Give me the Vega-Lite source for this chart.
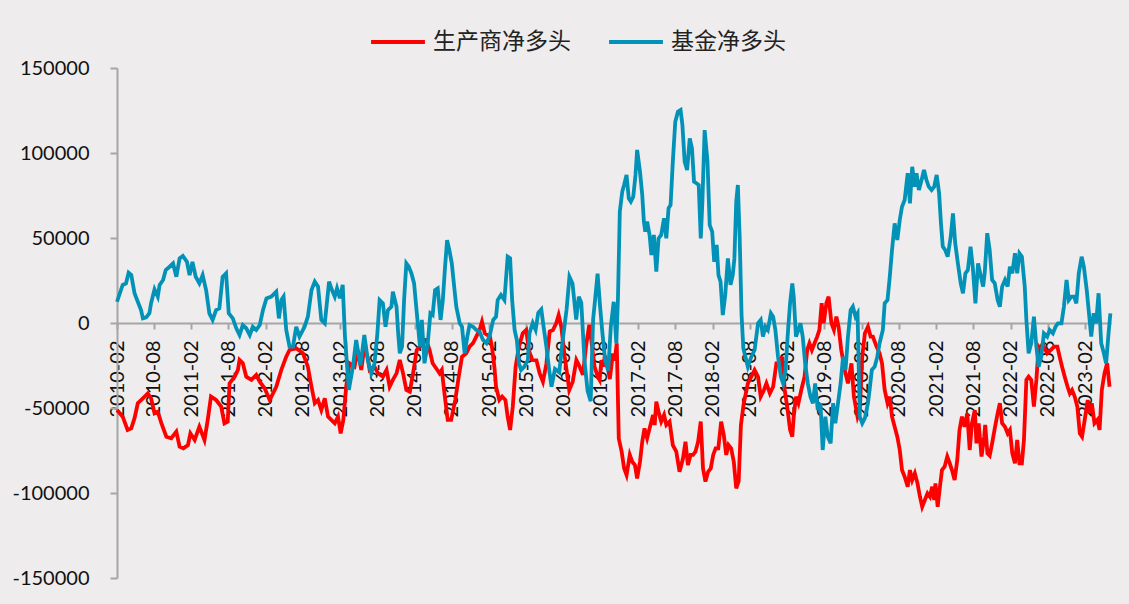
{
  "$schema": "https://vega.github.io/schema/vega-lite/v6.json",
  "width": 994,
  "height": 510,
  "autosize": {"type": "none"},
  "padding": {"left": 117, "top": 68, "right": 18, "bottom": 26},
  "background": "#EEECEC",
  "config": {"view": {"stroke": null}, "font": "Lato"},
  "datasets": {
    "producer": [
      {"date":"2010-02-01","value":-51200},{"date":"2010-03-01","value":-55100},{"date":"2010-03-25","value":-62900},{"date":"2010-04-12","value":-62000},{"date":"2010-04-28","value":-56000},{"date":"2010-05-14","value":-47200},{"date":"2010-06-08","value":-44300},{"date":"2010-07-02","value":-41400},{"date":"2010-07-18","value":-44300},{"date":"2010-08-04","value":-53100},{"date":"2010-08-20","value":-52200},{"date":"2010-09-07","value":-59000},{"date":"2010-10-01","value":-66900},{"date":"2010-10-25","value":-67800},{"date":"2010-11-19","value":-63900},{"date":"2010-12-05","value":-72700},{"date":"2010-12-24","value":-73700},{"date":"2011-01-15","value":-71800},{"date":"2011-01-27","value":-64900},{"date":"2011-02-17","value":-68800},{"date":"2011-03-12","value":-61000},{"date":"2011-04-06","value":-68800},{"date":"2011-04-22","value":-57000},{"date":"2011-05-08","value":-43300},{"date":"2011-06-02","value":-45300},{"date":"2011-06-27","value":-49200},{"date":"2011-07-13","value":-59000},{"date":"2011-07-29","value":-58000},{"date":"2011-08-07","value":-35500},{"date":"2011-09-01","value":-31600},{"date":"2011-09-17","value":-27600},{"date":"2011-09-25","value":-21800},{"date":"2011-10-11","value":-23700},{"date":"2011-10-28","value":-31600},{"date":"2011-11-22","value":-33500},{"date":"2011-12-16","value":-30600},{"date":"2012-01-02","value":-34500},{"date":"2012-01-26","value":-38400},{"date":"2012-02-20","value":-45300},{"date":"2012-03-23","value":-37500},{"date":"2012-04-17","value":-27600},{"date":"2012-05-11","value":-19800},{"date":"2012-05-27","value":-15900},{"date":"2012-06-29","value":-14900},{"date":"2012-08-01","value":-17800},{"date":"2012-08-25","value":-25700},{"date":"2012-09-12","value":-37500},{"date":"2012-09-28","value":-47200},{"date":"2012-10-14","value":-45300},{"date":"2012-10-30","value":-51200},{"date":"2012-11-16","value":-44300},{"date":"2012-12-02","value":-55100},{"date":"2012-12-18","value":-57000},{"date":"2013-01-04","value":-59000},{"date":"2013-01-20","value":-55100},{"date":"2013-02-02","value":-64900},{"date":"2013-02-15","value":-57000},{"date":"2013-03-01","value":-37500},{"date":"2013-03-17","value":-23700},{"date":"2013-04-11","value":-25700},{"date":"2013-04-27","value":-15900},{"date":"2013-05-14","value":-27600},{"date":"2013-05-29","value":-14000},{"date":"2013-06-14","value":-20000},{"date":"2013-06-24","value":-27600},{"date":"2013-07-18","value":-25700},{"date":"2013-08-04","value":-29600},{"date":"2013-08-28","value":-31600},{"date":"2013-09-15","value":-27600},{"date":"2013-09-30","value":-37500},{"date":"2013-10-16","value":-33500},{"date":"2013-11-03","value":-29600},{"date":"2013-11-19","value":-21800},{"date":"2013-12-05","value":-29600},{"date":"2013-12-21","value":-39400},{"date":"2014-01-07","value":-40400},{"date":"2014-01-23","value":-29600},{"date":"2014-02-10","value":-15900},{"date":"2014-02-26","value":-13900},{"date":"2014-03-12","value":-10000},{"date":"2014-03-28","value":-10000},{"date":"2014-04-14","value":-15900},{"date":"2014-04-29","value":-23700},{"date":"2014-05-16","value":-26600},{"date":"2014-06-02","value":-29600},{"date":"2014-06-13","value":-27600},{"date":"2014-06-26","value":-41400},{"date":"2014-07-12","value":-57000},{"date":"2014-07-29","value":-57000},{"date":"2014-08-18","value":-45300},{"date":"2014-09-04","value":-31600},{"date":"2014-09-20","value":-19800},{"date":"2014-10-11","value":-17800},{"date":"2014-10-27","value":-13900},{"date":"2014-11-13","value":-11900},{"date":"2014-11-29","value":-8000},{"date":"2014-12-15","value":-4100},{"date":"2014-12-27","value":800},{"date":"2015-01-10","value":-6100},{"date":"2015-02-04","value":-8000},{"date":"2015-02-14","value":-14000},{"date":"2015-02-26","value":-26000},{"date":"2015-03-06","value":-37500},{"date":"2015-03-22","value":-45300},{"date":"2015-04-05","value":-43300},{"date":"2015-04-21","value":-45300},{"date":"2015-05-02","value":-55100},{"date":"2015-05-14","value":-62900},{"date":"2015-05-27","value":-49200},{"date":"2015-06-10","value":-25700},{"date":"2015-06-26","value":-13900},{"date":"2015-07-15","value":-6100},{"date":"2015-08-01","value":-4100},{"date":"2015-08-14","value":-15900},{"date":"2015-08-30","value":-21800},{"date":"2015-09-20","value":-22000},{"date":"2015-10-06","value":-29600},{"date":"2015-10-22","value":-34500},{"date":"2015-11-08","value":-24000},{"date":"2015-11-24","value":-5000},{"date":"2015-12-10","value":-4100},{"date":"2015-12-26","value":-200},{"date":"2016-01-07","value":4700},{"date":"2016-01-20","value":-2200},{"date":"2016-02-06","value":-20000},{"date":"2016-02-17","value":-29600},{"date":"2016-02-28","value":-39400},{"date":"2016-03-16","value":-34500},{"date":"2016-04-03","value":-21800},{"date":"2016-04-11","value":-23700},{"date":"2016-04-19","value":-25700},{"date":"2016-05-05","value":-30500},{"date":"2016-05-21","value":-13000},{"date":"2016-06-05","value":-1000},{"date":"2016-06-15","value":-10000},{"date":"2016-07-01","value":-25700},{"date":"2016-07-17","value":-31600},{"date":"2016-07-26","value":-33500},{"date":"2016-08-04","value":-21800},{"date":"2016-08-12","value":-25700},{"date":"2016-08-20","value":-20000},{"date":"2016-08-29","value":-22000},{"date":"2016-09-14","value":-33000},{"date":"2016-09-29","value":-18000},{"date":"2016-10-08","value":-22000},{"date":"2016-10-18","value":-12000},{"date":"2016-10-28","value":-68000},{"date":"2016-11-11","value":-75700},{"date":"2016-11-23","value":-85500},{"date":"2016-12-05","value":-89400},{"date":"2016-12-21","value":-77600},{"date":"2017-01-02","value":-81600},{"date":"2017-01-15","value":-83500},{"date":"2017-01-26","value":-91400},{"date":"2017-02-09","value":-81600},{"date":"2017-02-20","value":-69800},{"date":"2017-03-03","value":-62000},{"date":"2017-03-16","value":-67800},{"date":"2017-03-28","value":-62000},{"date":"2017-04-14","value":-54100},{"date":"2017-04-22","value":-60000},{"date":"2017-04-30","value":-46300},{"date":"2017-05-11","value":-52200},{"date":"2017-05-24","value":-58000},{"date":"2017-06-07","value":-54100},{"date":"2017-06-18","value":-60000},{"date":"2017-07-04","value":-58000},{"date":"2017-07-20","value":-71800},{"date":"2017-08-06","value":-75700},{"date":"2017-08-22","value":-87500},{"date":"2017-09-08","value":-79600},{"date":"2017-09-20","value":-69800},{"date":"2017-10-02","value":-83500},{"date":"2017-10-15","value":-77600},{"date":"2017-10-27","value":-77600},{"date":"2017-11-08","value":-75700},{"date":"2017-11-21","value":-69800},{"date":"2017-12-04","value":-58000},{"date":"2017-12-15","value":-85500},{"date":"2017-12-27","value":-93300},{"date":"2018-01-09","value":-87500},{"date":"2018-01-22","value":-85500},{"date":"2018-02-03","value":-77600},{"date":"2018-02-15","value":-73700},{"date":"2018-02-28","value":-73700},{"date":"2018-03-14","value":-58000},{"date":"2018-03-27","value":-65900},{"date":"2018-04-08","value":-77600},{"date":"2018-04-19","value":-71800},{"date":"2018-05-02","value":-73700},{"date":"2018-05-15","value":-81600},{"date":"2018-05-27","value":-97300},{"date":"2018-06-08","value":-93000},{"date":"2018-06-19","value":-60000},{"date":"2018-07-02","value":-48000},{"date":"2018-07-23","value":-35500},{"date":"2018-08-09","value":-31600},{"date":"2018-08-25","value":-27600},{"date":"2018-09-11","value":-31600},{"date":"2018-09-24","value":-43300},{"date":"2018-10-10","value":-39400},{"date":"2018-10-22","value":-35500},{"date":"2018-11-08","value":-41400},{"date":"2018-11-24","value":-37500},{"date":"2018-12-10","value":-23700},{"date":"2018-12-26","value":-23700},{"date":"2019-01-07","value":-19800},{"date":"2019-01-20","value":-39400},{"date":"2019-02-03","value":-51200},{"date":"2019-02-15","value":-62900},{"date":"2019-02-26","value":-66900},{"date":"2019-03-05","value":-55100},{"date":"2019-03-16","value":-43300},{"date":"2019-03-28","value":-47200},{"date":"2019-04-11","value":-39400},{"date":"2019-04-27","value":-31600},{"date":"2019-05-10","value":-15900},{"date":"2019-05-21","value":-11900},{"date":"2019-06-02","value":-15900},{"date":"2019-06-15","value":-11900},{"date":"2019-06-28","value":-8000},{"date":"2019-07-09","value":-4100},{"date":"2019-07-20","value":11600},{"date":"2019-07-30","value":-200},{"date":"2019-08-12","value":11600},{"date":"2019-08-23","value":15500},{"date":"2019-09-06","value":-200},{"date":"2019-09-18","value":-4100},{"date":"2019-09-30","value":3700},{"date":"2019-10-11","value":-2200},{"date":"2019-10-24","value":-15900},{"date":"2019-11-10","value":-27600},{"date":"2019-11-26","value":-35500},{"date":"2019-12-13","value":-23700},{"date":"2019-12-25","value":-43300},{"date":"2020-01-12","value":-55100},{"date":"2020-01-23","value":-51200},{"date":"2020-02-04","value":-19800},{"date":"2020-02-17","value":-6000},{"date":"2020-03-03","value":-2200},{"date":"2020-03-16","value":-8000},{"date":"2020-03-27","value":-8000},{"date":"2020-04-14","value":-13900},{"date":"2020-04-29","value":-17800},{"date":"2020-05-11","value":-23700},{"date":"2020-05-24","value":-39400},{"date":"2020-06-07","value":-47200},{"date":"2020-06-18","value":-43300},{"date":"2020-06-29","value":-55100},{"date":"2020-07-12","value":-61000},{"date":"2020-07-25","value":-66900},{"date":"2020-08-06","value":-74700},{"date":"2020-08-17","value":-86500},{"date":"2020-08-30","value":-90400},{"date":"2020-09-14","value":-96300},{"date":"2020-09-25","value":-86500},{"date":"2020-10-06","value":-92400},{"date":"2020-10-19","value":-88400},{"date":"2020-11-01","value":-94300},{"date":"2020-11-13","value":-102200},{"date":"2020-11-24","value":-108100},{"date":"2020-12-07","value":-104100},{"date":"2020-12-20","value":-100200},{"date":"2021-01-01","value":-102200},{"date":"2021-01-12","value":-96300},{"date":"2021-01-22","value":-104100},{"date":"2021-01-28","value":-94300},{"date":"2021-02-08","value":-108100},{"date":"2021-02-19","value":-96300},{"date":"2021-03-01","value":-86500},{"date":"2021-03-14","value":-84500},{"date":"2021-03-27","value":-78600},{"date":"2021-04-08","value":-82500},{"date":"2021-04-19","value":-86500},{"date":"2021-05-02","value":-92400},{"date":"2021-05-15","value":-80600},{"date":"2021-05-26","value":-62900},{"date":"2021-06-07","value":-55100},{"date":"2021-06-20","value":-61000},{"date":"2021-07-03","value":-53100},{"date":"2021-07-15","value":-74700},{"date":"2021-07-26","value":-59000},{"date":"2021-08-09","value":-51200},{"date":"2021-08-17","value":-70800},{"date":"2021-08-28","value":-59000},{"date":"2021-09-11","value":-78600},{"date":"2021-09-24","value":-66900},{"date":"2021-09-29","value":-60000},{"date":"2021-10-10","value":-76700},{"date":"2021-10-21","value":-78000},{"date":"2021-11-02","value":-70800},{"date":"2021-11-15","value":-62000},{"date":"2021-11-29","value":-53100},{"date":"2021-12-10","value":-47200},{"date":"2021-12-21","value":-59000},{"date":"2022-01-04","value":-61000},{"date":"2022-01-17","value":-64900},{"date":"2022-01-28","value":-62900},{"date":"2022-02-09","value":-76700},{"date":"2022-02-22","value":-82500},{"date":"2022-03-05","value":-68800},{"date":"2022-03-16","value":-82500},{"date":"2022-03-28","value":-82500},{"date":"2022-04-07","value":-68800},{"date":"2022-04-19","value":-33500},{"date":"2022-04-30","value":-31600},{"date":"2022-05-13","value":-33500},{"date":"2022-05-26","value":-49200},{"date":"2022-06-07","value":-33500},{"date":"2022-06-18","value":-13900},{"date":"2022-07-01","value":-15900},{"date":"2022-07-14","value":-13900},{"date":"2022-07-30","value":-17800},{"date":"2022-08-16","value":-15900},{"date":"2022-09-02","value":-13900},{"date":"2022-09-18","value":-13900},{"date":"2022-09-29","value":-19800},{"date":"2022-10-11","value":-25700},{"date":"2022-10-24","value":-31600},{"date":"2022-11-07","value":-37500},{"date":"2022-11-18","value":-41400},{"date":"2022-11-29","value":-39400},{"date":"2022-12-12","value":-43300},{"date":"2022-12-25","value":-49200},{"date":"2023-01-06","value":-64900},{"date":"2023-01-17","value":-66900},{"date":"2023-01-30","value":-57000},{"date":"2023-02-14","value":-45300},{"date":"2023-02-25","value":-53100},{"date":"2023-03-06","value":-47200},{"date":"2023-03-19","value":-59000},{"date":"2023-04-02","value":-57000},{"date":"2023-04-13","value":-62900},{"date":"2023-04-24","value":-39400},{"date":"2023-05-07","value":-29600},{"date":"2023-05-20","value":-23700},{"date":"2023-06-01","value":-37500}
    ],
    "fund": [
      {"date":"2010-02-01","value":12500},{"date":"2010-02-15","value":17500},{"date":"2010-03-01","value":22400},{"date":"2010-03-17","value":23300},{"date":"2010-03-30","value":29600},{"date":"2010-04-12","value":28200},{"date":"2010-04-28","value":17500},{"date":"2010-05-14","value":12500},{"date":"2010-05-30","value":7600},{"date":"2010-06-08","value":2700},{"date":"2010-06-24","value":3300},{"date":"2010-07-10","value":5700},{"date":"2010-07-18","value":11600},{"date":"2010-08-04","value":19800},{"date":"2010-08-20","value":15500},{"date":"2010-08-29","value":22400},{"date":"2010-09-15","value":25300},{"date":"2010-09-28","value":31200},{"date":"2010-10-17","value":33100},{"date":"2010-11-03","value":35100},{"date":"2010-11-19","value":27200},{"date":"2010-12-05","value":38000},{"date":"2010-12-21","value":39400},{"date":"2011-01-10","value":36000},{"date":"2011-01-23","value":28200},{"date":"2011-02-06","value":36000},{"date":"2011-02-22","value":27200},{"date":"2011-03-12","value":23300},{"date":"2011-03-28","value":28200},{"date":"2011-04-14","value":19400},{"date":"2011-04-30","value":5700},{"date":"2011-05-16","value":1800},{"date":"2011-06-02","value":7600},{"date":"2011-06-18","value":8600},{"date":"2011-07-04","value":27200},{"date":"2011-07-21","value":29200},{"date":"2011-08-03","value":5700},{"date":"2011-08-23","value":2700},{"date":"2011-09-09","value":-3100},{"date":"2011-09-25","value":-7000},{"date":"2011-10-11","value":-1200},{"date":"2011-10-28","value":-3100},{"date":"2011-11-14","value":-7100},{"date":"2011-11-29","value":-2200},{"date":"2011-12-16","value":-4100},{"date":"2012-01-02","value":-1200},{"date":"2012-01-18","value":7600},{"date":"2012-02-04","value":14500},{"date":"2012-02-28","value":15500},{"date":"2012-03-23","value":18400},{"date":"2012-04-05","value":2700},{"date":"2012-04-17","value":13500},{"date":"2012-04-28","value":15500},{"date":"2012-05-11","value":-4100},{"date":"2012-05-27","value":-13900},{"date":"2012-06-13","value":-13900},{"date":"2012-06-29","value":-2200},{"date":"2012-07-15","value":-8000},{"date":"2012-08-09","value":-2200},{"date":"2012-08-25","value":3700},{"date":"2012-09-12","value":19400},{"date":"2012-09-28","value":24300},{"date":"2012-10-14","value":21400},{"date":"2012-10-30","value":1800},{"date":"2012-11-16","value":-200},{"date":"2012-12-07","value":24300},{"date":"2012-12-18","value":20400},{"date":"2013-01-04","value":15500},{"date":"2013-01-15","value":20400},{"date":"2013-01-29","value":14500},{"date":"2013-02-12","value":22400},{"date":"2013-02-23","value":-8000},{"date":"2013-03-14","value":-39400},{"date":"2013-04-03","value":-25700},{"date":"2013-04-19","value":-10000},{"date":"2013-04-27","value":-15900},{"date":"2013-05-10","value":-25000},{"date":"2013-05-29","value":-7000},{"date":"2013-06-15","value":-21800},{"date":"2013-07-02","value":-29600},{"date":"2013-07-18","value":-23700},{"date":"2013-08-01","value":-6100},{"date":"2013-08-12","value":13500},{"date":"2013-08-28","value":11600},{"date":"2013-09-10","value":-2200},{"date":"2013-09-22","value":7600},{"date":"2013-10-09","value":9600},{"date":"2013-10-16","value":18400},{"date":"2013-11-03","value":9600},{"date":"2013-11-11","value":-6100},{"date":"2013-11-19","value":-17800},{"date":"2013-11-30","value":-13900},{"date":"2013-12-10","value":13500},{"date":"2013-12-21","value":35100},{"date":"2014-01-02","value":33100},{"date":"2014-01-15","value":29200},{"date":"2014-01-28","value":23300},{"date":"2014-02-15","value":-200},{"date":"2014-02-26","value":-13900},{"date":"2014-03-07","value":1800},{"date":"2014-03-20","value":-23700},{"date":"2014-04-05","value":-11900},{"date":"2014-04-18","value":5700},{"date":"2014-04-29","value":4700},{"date":"2014-05-11","value":19400},{"date":"2014-05-24","value":20400},{"date":"2014-06-07","value":1800},{"date":"2014-06-18","value":13500},{"date":"2014-06-29","value":33100},{"date":"2014-07-09","value":48800},{"date":"2014-07-20","value":42900},{"date":"2014-08-01","value":35100},{"date":"2014-08-11","value":23300},{"date":"2014-08-23","value":9600},{"date":"2014-09-09","value":-200},{"date":"2014-09-20","value":-2200},{"date":"2014-10-03","value":-17800},{"date":"2014-10-16","value":-8000},{"date":"2014-10-27","value":-1200},{"date":"2014-11-13","value":-2200},{"date":"2014-11-29","value":-4100},{"date":"2014-12-15","value":-5100},{"date":"2015-01-01","value":-10000},{"date":"2015-01-18","value":-11900},{"date":"2015-02-04","value":-7000},{"date":"2015-02-20","value":1800},{"date":"2015-03-06","value":3700},{"date":"2015-03-14","value":13500},{"date":"2015-03-30","value":16500},{"date":"2015-04-16","value":13500},{"date":"2015-05-02","value":39000},{"date":"2015-05-14","value":38000},{"date":"2015-05-24","value":13500},{"date":"2015-06-05","value":-4100},{"date":"2015-06-16","value":-10000},{"date":"2015-06-26","value":-23700},{"date":"2015-07-07","value":-27600},{"date":"2015-07-23","value":-25700},{"date":"2015-08-09","value":-21800},{"date":"2015-08-17","value":-6000},{"date":"2015-09-02","value":0},{"date":"2015-09-16","value":-4000},{"date":"2015-09-29","value":6000},{"date":"2015-10-14","value":8000},{"date":"2015-10-25","value":-2000},{"date":"2015-11-08","value":-14000},{"date":"2015-11-21","value":-27000},{"date":"2015-12-03","value":-37500},{"date":"2015-12-20","value":-27000},{"date":"2016-01-10","value":-29000},{"date":"2016-01-27","value":-10000},{"date":"2016-02-15","value":8000},{"date":"2016-02-29","value":27200},{"date":"2016-03-15","value":23300},{"date":"2016-04-02","value":2000},{"date":"2016-04-15","value":15500},{"date":"2016-04-27","value":12000},{"date":"2016-05-13","value":-22500},{"date":"2016-05-28","value":-40000},{"date":"2016-06-12","value":-46000},{"date":"2016-06-24","value":2000},{"date":"2016-07-04","value":14000},{"date":"2016-07-16","value":29000},{"date":"2016-07-28","value":10000},{"date":"2016-08-08","value":-5000},{"date":"2016-08-22","value":-22000},{"date":"2016-09-06","value":-28000},{"date":"2016-09-19","value":-2000},{"date":"2016-10-03","value":12500},{"date":"2016-10-16","value":-12000},{"date":"2016-10-24","value":15000},{"date":"2016-11-02","value":65500},{"date":"2016-11-14","value":77300},{"date":"2016-11-23","value":81200},{"date":"2016-12-05","value":87100},{"date":"2016-12-16","value":73300},{"date":"2016-12-26","value":71400},{"date":"2017-01-07","value":74300},{"date":"2017-01-18","value":87100},{"date":"2017-01-26","value":101800},{"date":"2017-02-09","value":89000},{"date":"2017-02-20","value":75300},{"date":"2017-02-28","value":59600},{"date":"2017-03-07","value":53700},{"date":"2017-03-16","value":59600},{"date":"2017-03-28","value":51800},{"date":"2017-04-06","value":40000},{"date":"2017-04-18","value":51800},{"date":"2017-04-30","value":30200},{"date":"2017-05-11","value":49800},{"date":"2017-05-24","value":51800},{"date":"2017-06-07","value":61600},{"date":"2017-06-18","value":49800},{"date":"2017-06-29","value":67500},{"date":"2017-07-09","value":69400},{"date":"2017-07-20","value":94900},{"date":"2017-08-01","value":118400},{"date":"2017-08-14","value":124300},{"date":"2017-08-27","value":125300},{"date":"2017-09-05","value":116500},{"date":"2017-09-16","value":94900},{"date":"2017-09-28","value":90000},{"date":"2017-10-11","value":108600},{"date":"2017-10-22","value":102700},{"date":"2017-11-01","value":83100},{"date":"2017-11-13","value":82200},{"date":"2017-11-24","value":81200},{"date":"2017-12-04","value":49800},{"date":"2017-12-12","value":71400},{"date":"2017-12-23","value":113500},{"date":"2018-01-06","value":94900},{"date":"2018-01-17","value":57600},{"date":"2018-01-29","value":53700},{"date":"2018-02-08","value":36000},{"date":"2018-02-20","value":45900},{"date":"2018-03-01","value":28200},{"date":"2018-03-11","value":24300},{"date":"2018-03-22","value":4700},{"date":"2018-04-03","value":16500},{"date":"2018-04-16","value":38000},{"date":"2018-04-29","value":22400},{"date":"2018-05-10","value":28200},{"date":"2018-05-18","value":38000},{"date":"2018-05-27","value":71400},{"date":"2018-06-04","value":81200},{"date":"2018-06-13","value":50000},{"date":"2018-06-22","value":5000},{"date":"2018-07-01","value":-15000},{"date":"2018-07-23","value":-25700},{"date":"2018-08-09","value":-19800},{"date":"2018-08-25","value":-15900},{"date":"2018-09-11","value":-200},{"date":"2018-09-24","value":1800},{"date":"2018-10-05","value":-8000},{"date":"2018-10-17","value":-2200},{"date":"2018-10-29","value":-4100},{"date":"2018-11-13","value":5700},{"date":"2018-11-24","value":3700},{"date":"2018-12-05","value":-4100},{"date":"2018-12-18","value":-19800},{"date":"2019-01-01","value":-31600},{"date":"2019-01-12","value":-35500},{"date":"2019-01-24","value":-27600},{"date":"2019-02-03","value":-8000},{"date":"2019-02-15","value":11600},{"date":"2019-02-26","value":23300},{"date":"2019-03-05","value":15500},{"date":"2019-03-16","value":-8000},{"date":"2019-03-28","value":-4100},{"date":"2019-04-07","value":-200},{"date":"2019-04-18","value":-8000},{"date":"2019-04-30","value":-23700},{"date":"2019-05-13","value":-35500},{"date":"2019-05-26","value":-43300},{"date":"2019-06-07","value":-47200},{"date":"2019-06-18","value":-35500},{"date":"2019-07-01","value":-51200},{"date":"2019-07-14","value":-47200},{"date":"2019-07-25","value":-74700},{"date":"2019-08-07","value":-55100},{"date":"2019-08-19","value":-66900},{"date":"2019-09-02","value":-70800},{"date":"2019-09-14","value":-47200},{"date":"2019-09-25","value":-59000},{"date":"2019-10-08","value":-47200},{"date":"2019-10-21","value":-35500},{"date":"2019-11-02","value":-19800},{"date":"2019-11-14","value":-27600},{"date":"2019-11-26","value":-8000},{"date":"2019-12-09","value":7600},{"date":"2019-12-20","value":9600},{"date":"2020-01-02","value":3700},{"date":"2020-01-12","value":5700},{"date":"2020-01-23","value":-55100},{"date":"2020-02-04","value":-59000},{"date":"2020-02-17","value":-56000},{"date":"2020-03-03","value":-47200},{"date":"2020-03-11","value":-39400},{"date":"2020-03-22","value":-27600},{"date":"2020-04-05","value":-25700},{"date":"2020-04-18","value":-19800},{"date":"2020-04-29","value":-11900},{"date":"2020-05-15","value":-4100},{"date":"2020-05-24","value":11600},{"date":"2020-06-07","value":13500},{"date":"2020-06-18","value":27200},{"date":"2020-06-29","value":42900},{"date":"2020-07-12","value":58600},{"date":"2020-07-25","value":48800},{"date":"2020-08-06","value":60600},{"date":"2020-08-17","value":68400},{"date":"2020-08-30","value":72400},{"date":"2020-09-14","value":88100},{"date":"2020-09-25","value":70400},{"date":"2020-10-06","value":91900},{"date":"2020-10-19","value":80200},{"date":"2020-10-27","value":88100},{"date":"2020-11-08","value":78200},{"date":"2020-11-21","value":84100},{"date":"2020-12-03","value":90000},{"date":"2020-12-15","value":84100},{"date":"2020-12-26","value":80200},{"date":"2021-01-09","value":78200},{"date":"2021-01-22","value":80200},{"date":"2021-02-03","value":87100},{"date":"2021-02-15","value":76300},{"date":"2021-02-24","value":58600},{"date":"2021-03-05","value":44900},{"date":"2021-03-17","value":42900},{"date":"2021-03-29","value":39000},{"date":"2021-04-13","value":50800},{"date":"2021-04-24","value":64500},{"date":"2021-05-05","value":46900},{"date":"2021-05-18","value":35100},{"date":"2021-06-01","value":23300},{"date":"2021-06-12","value":17500},{"date":"2021-06-24","value":29200},{"date":"2021-07-06","value":31200},{"date":"2021-07-19","value":44900},{"date":"2021-07-30","value":33100},{"date":"2021-08-12","value":11600},{"date":"2021-08-25","value":35100},{"date":"2021-09-08","value":27200},{"date":"2021-09-19","value":21400},{"date":"2021-09-27","value":30000},{"date":"2021-10-09","value":52800},{"date":"2021-10-21","value":42900},{"date":"2021-11-02","value":25300},{"date":"2021-11-15","value":23300},{"date":"2021-11-29","value":13500},{"date":"2021-12-10","value":9600},{"date":"2021-12-21","value":21400},{"date":"2022-01-04","value":25300},{"date":"2022-01-17","value":21400},{"date":"2022-01-28","value":33100},{"date":"2022-02-09","value":29200},{"date":"2022-02-22","value":41000},{"date":"2022-03-05","value":29200},{"date":"2022-03-16","value":41000},{"date":"2022-03-28","value":39000},{"date":"2022-04-11","value":21400},{"date":"2022-04-19","value":1800},{"date":"2022-04-30","value":-17800},{"date":"2022-05-13","value":-11900},{"date":"2022-05-26","value":3700},{"date":"2022-06-07","value":-13900},{"date":"2022-06-18","value":-25700},{"date":"2022-07-01","value":-19800},{"date":"2022-07-14","value":-6100},{"date":"2022-07-30","value":-8000},{"date":"2022-08-11","value":-4100},{"date":"2022-08-27","value":-6100},{"date":"2022-09-09","value":-2200},{"date":"2022-09-21","value":-200},{"date":"2022-10-08","value":-200},{"date":"2022-10-20","value":9600},{"date":"2022-11-02","value":25300},{"date":"2022-11-13","value":13500},{"date":"2022-11-26","value":15500},{"date":"2022-12-09","value":15500},{"date":"2022-12-20","value":11600},{"date":"2023-01-01","value":29200},{"date":"2023-01-15","value":39000},{"date":"2023-01-26","value":33100},{"date":"2023-02-09","value":19400},{"date":"2023-02-20","value":5700},{"date":"2023-03-03","value":-8000},{"date":"2023-03-15","value":5700},{"date":"2023-03-27","value":-200},{"date":"2023-04-08","value":17500},{"date":"2023-04-21","value":-11900},{"date":"2023-05-04","value":-17800},{"date":"2023-05-15","value":-23700},{"date":"2023-05-27","value":-6100},{"date":"2023-06-05","value":5700}
    ]
  },
  "encoding": {
    "x": {
      "field": "date",
      "type": "temporal",
      "scale": {"type": "utc", "domain": [{"year": 2010, "month": 2, "date": 1, "utc": true}, {"year": 2023, "month": 6, "date": 8, "utc": true}]},
      "axis": {
        "title": null,
        "grid": false,
        "offset": -255,
        "values": [
          {"year":2010,"month":2,"date":1,"utc":true},{"year":2010,"month":8,"date":1,"utc":true},
          {"year":2011,"month":2,"date":1,"utc":true},{"year":2011,"month":8,"date":1,"utc":true},
          {"year":2012,"month":2,"date":1,"utc":true},{"year":2012,"month":8,"date":1,"utc":true},
          {"year":2013,"month":2,"date":1,"utc":true},{"year":2013,"month":8,"date":1,"utc":true},
          {"year":2014,"month":2,"date":1,"utc":true},{"year":2014,"month":8,"date":1,"utc":true},
          {"year":2015,"month":2,"date":1,"utc":true},{"year":2015,"month":8,"date":1,"utc":true},
          {"year":2016,"month":2,"date":1,"utc":true},{"year":2016,"month":8,"date":1,"utc":true},
          {"year":2017,"month":2,"date":1,"utc":true},{"year":2017,"month":8,"date":1,"utc":true},
          {"year":2018,"month":2,"date":1,"utc":true},{"year":2018,"month":8,"date":1,"utc":true},
          {"year":2019,"month":2,"date":1,"utc":true},{"year":2019,"month":8,"date":1,"utc":true},
          {"year":2020,"month":2,"date":1,"utc":true},{"year":2020,"month":8,"date":1,"utc":true},
          {"year":2021,"month":2,"date":1,"utc":true},{"year":2021,"month":8,"date":1,"utc":true},
          {"year":2022,"month":2,"date":1,"utc":true},{"year":2022,"month":8,"date":1,"utc":true},
          {"year":2023,"month":2,"date":1,"utc":true}
        ],
        "labelExpr": "utcFormat(datum.value, '%Y-%m')",
        "labelAngle": -90,
        "labelFont": "Lato",
        "labelFontSize": 20,
        "labelColor": "#111111",
        "labelPadding": 11,
        "labelFlush": false,
        "labelOverlap": false,
        "labelBound": false,
        "tickSize": 6,
        "tickWidth": 2,
        "tickColor": "#A6A6A6",
        "domainColor": "#A6A6A6",
        "domainWidth": 2
      }
    },
    "y": {
      "field": "value",
      "type": "quantitative",
      "scale": {"domain": [-150000, 150000], "nice": false, "zero": false},
      "axis": {
        "title": null,
        "grid": false,
        "values": [-150000, -100000, -50000, 0, 50000, 100000, 150000],
        "labelExpr": "'' + datum.value",
        "labelFont": "Lato",
        "labelFontSize": 20,
        "labelColor": "#111111",
        "labelPadding": 21,
        "tickSize": 7,
        "tickWidth": 2,
        "tickColor": "#A6A6A6",
        "domainColor": "#A6A6A6",
        "domainWidth": 2
      }
    }
  },
  "layer": [
    {
      "data": {"name": "producer"},
      "mark": {"type": "line", "strokeWidth": 3.8},
      "encoding": {
        "color": {
          "datum": "生产商净多头",
          "type": "nominal",
          "scale": {"domain": ["生产商净多头", "基金净多头"], "range": ["#FF0000", "#0292B7"]},
          "legend": {
            "orient": "none",
            "legendX": 252,
            "legendY": -55,
            "direction": "horizontal",
            "title": null,
            "padding": 0,
            "labelFont": "Noto Sans CJK SC",
            "labelFontSize": 23,
            "labelColor": "#222222",
            "labelOffset": 6,
            "columnPadding": 30,
            "symbolType": "stroke",
            "symbolSize": 2900,
            "symbolStrokeWidth": 4
          }
        }
      }
    },
    {
      "data": {"name": "fund"},
      "mark": {"type": "line", "strokeWidth": 3.8},
      "encoding": {
        "color": {
          "datum": "基金净多头",
          "type": "nominal",
          "scale": {"domain": ["生产商净多头", "基金净多头"], "range": ["#FF0000", "#0292B7"]}
        }
      }
    }
  ]
}
